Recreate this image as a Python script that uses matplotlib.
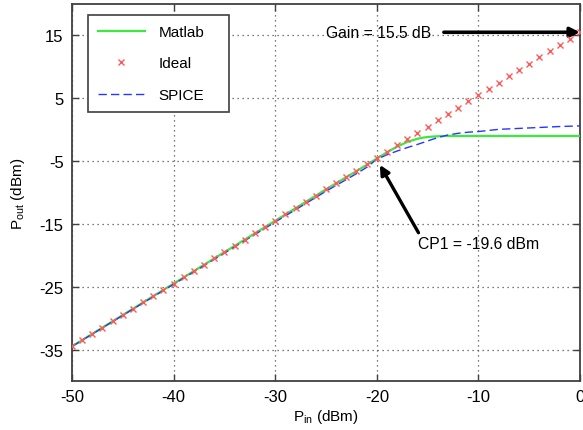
"""Amplifier compression curve: Pout vs Pin (Matlab / Ideal / SPICE)."""

import matplotlib

matplotlib.use("Agg")

import matplotlib.pyplot as plt  # noqa: E402

plt.rcParams["font.family"] = ["Liberation Sans", "DejaVu Sans"]
plt.rcParams["axes.unicode_minus"] = False
plt.rcParams["mathtext.default"] = "regular"

# Ideal linear gain (15.5 dB), one marker per dB
pin_ideal = list(range(-50, 1))
pout_ideal = [
    -34.5, -33.5, -32.5, -31.5, -30.5, -29.5, -28.5, -27.5, -26.5, -25.5,
    -24.5, -23.5, -22.5, -21.5, -20.5, -19.5, -18.5, -17.5, -16.5, -15.5,
    -14.5, -13.5, -12.5, -11.5, -10.5, -9.5, -8.5, -7.5, -6.5, -5.5,
    -4.5, -3.5, -2.5, -1.5, -0.5, 0.5, 1.5, 2.5, 3.5, 4.5,
    5.5, 6.5, 7.5, 8.5, 9.5, 10.5, 11.5, 12.5, 13.5, 14.5, 15.5,
]

# Matlab model
pin_matlab = [-50, -40, -30, -25, -22, -21, -20, -19, -18, -17, -16, -15.5,
              -15, -14.5, -14, -13, -12, -10, 0]
pout_matlab = [-34.5, -24.5, -14.5, -9.5, -6.6, -5.6, -4.6, -3.6, -2.7, -1.95,
               -1.45, -1.28, -1.17, -1.1, -1.05, -1.0, -1.0, -1.0, -1.0]

# SPICE simulation
pin_spice = [-50, -40, -30, -25, -22, -21, -20, -19, -18, -17, -16, -15, -14,
             -13, -12, -11, -10, -8, -6, -4, -2, 0]
pout_spice = [-34.5, -24.6, -14.7, -9.8, -7.0, -6.0, -4.7, -4.0, -3.4, -2.85,
              -2.35, -1.8, -1.25, -0.85, -0.58, -0.4, -0.3, 0.05, 0.2, 0.35, 0.5, 0.6]

x_ticks = [-50, -40, -30, -20, -10, 0]
y_ticks = [-35, -25, -15, -5, 5, 15]

FRAME = "#404040"

fig = plt.figure(figsize=(5.83, 4.31), dpi=100)
ax = fig.add_axes([0.1235, 0.1137, 0.8714, 0.8747])

ax.plot(pin_matlab, pout_matlab, color="#3ee83e", linewidth=1.6, label="Matlab", zorder=3)
ax.plot(pin_ideal, pout_ideal, linestyle="none", marker="x", markersize=5,
        markeredgewidth=1.0, color="#ff5a5a", label="Ideal", zorder=4)
ax.plot(pin_spice, pout_spice, color="#2438ff", linewidth=1.0,
        dashes=(6, 3), label="SPICE", zorder=3)

ax.set_xlim(-50, 0)
ax.set_ylim(-40, 20)
ax.set_xticks(x_ticks)
ax.set_yticks(y_ticks)

ax.grid(True, color="#505050", linestyle=(0, (1, 3)), linewidth=0.9)
ax.set_axisbelow(True)
for side in ax.spines.values():
    side.set_color(FRAME)
    side.set_linewidth(1.3)
ax.tick_params(direction="in", length=5, width=1.0, color=FRAME,
               top=True, right=True, labelsize=12)
ax.tick_params(axis="x", pad=6)
ax.tick_params(axis="y", pad=6)

ax.set_xlabel("$P_{in}$ (dBm)", fontsize=11, labelpad=2)
ax.set_ylabel("$P_{out}$ (dBm)", fontsize=11, labelpad=9)

leg = ax.legend(loc="upper left", bbox_to_anchor=(0.031, 0.971, 0.278, 0.0),
                mode="expand", borderaxespad=0, fancybox=False,
                edgecolor=FRAME, framealpha=1, fontsize=11,
                handlelength=3.1, handletextpad=0.9, labelspacing=1.15,
                borderpad=0.65)
leg.get_frame().set_linewidth(1.2)

# Annotations
ax.annotate("", xy=(0, 15.5), xytext=(-13.4, 15.5),
            arrowprops=dict(arrowstyle="-|>", lw=2.6, color="black",
                            mutation_scale=14, shrinkA=0, shrinkB=0))
ax.text(-25.0, 15.5, "Gain = 15.5 dB", fontsize=11.3, ha="left", va="center")

ax.annotate("", xy=(-19.7, -5.6), xytext=(-15.9, -16.4),
            arrowprops=dict(arrowstyle="-|>", lw=2.4, color="black",
                            mutation_scale=14, shrinkA=0, shrinkB=0))
ax.text(-15.9, -18.1, "CP1 = -19.6 dBm", fontsize=11.3, ha="left", va="center")

fig.savefig("out.png", dpi=100, facecolor="white")
